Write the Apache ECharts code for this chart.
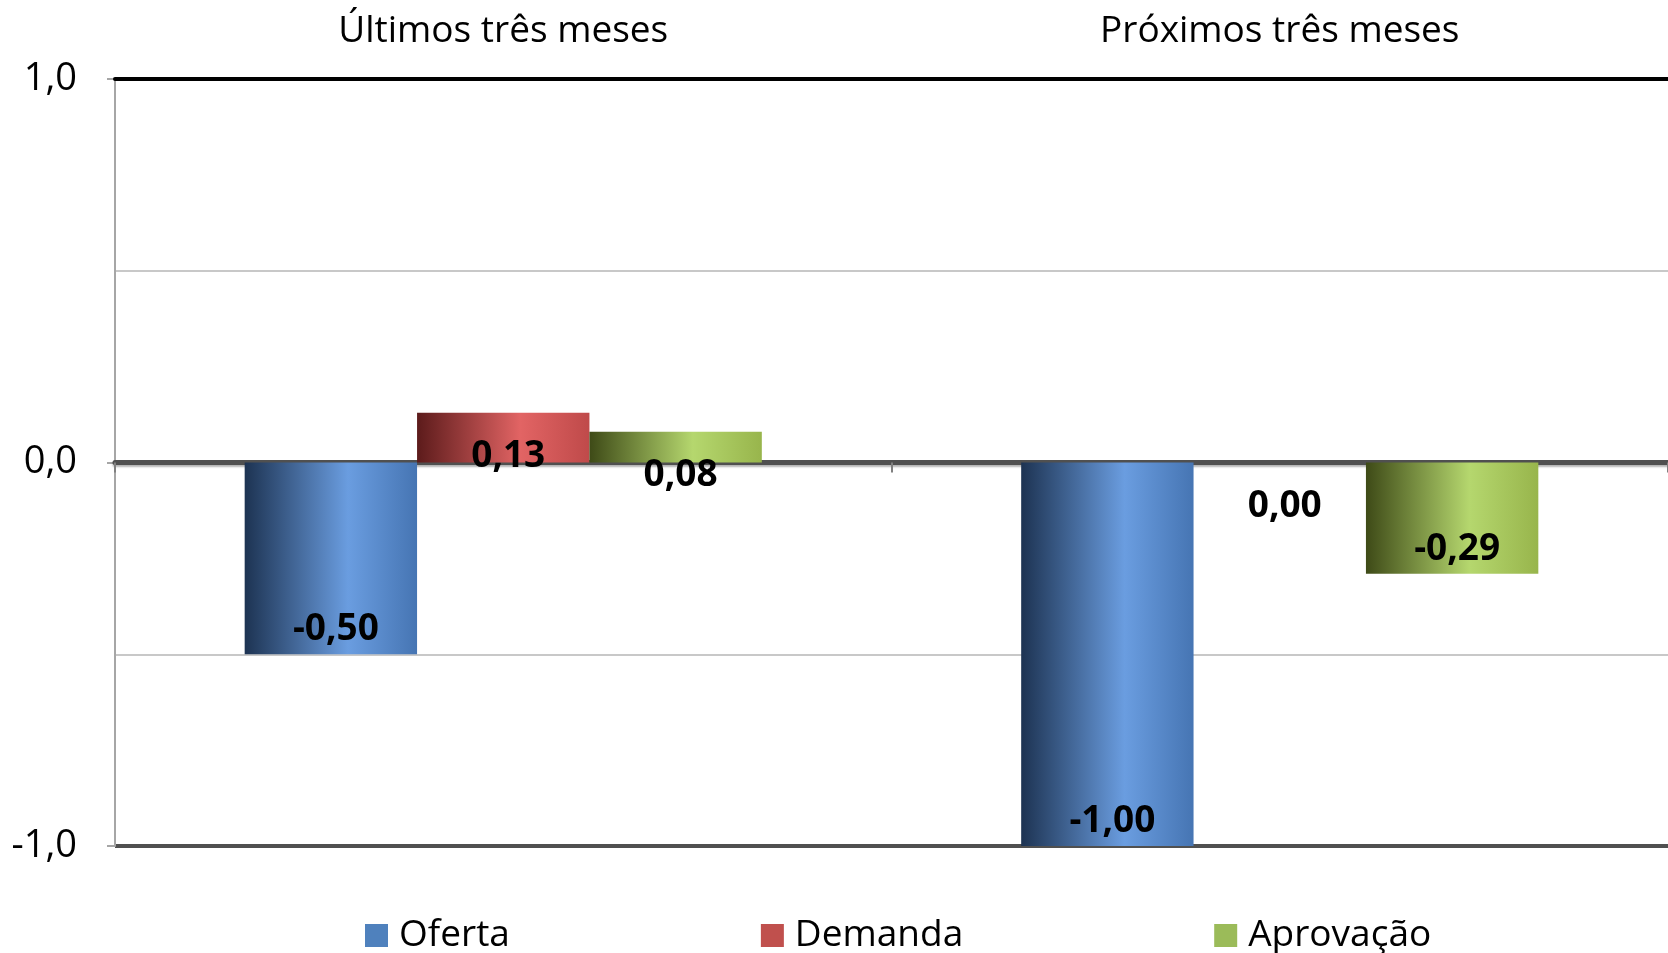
<!DOCTYPE html>
<html>
<head>
<meta charset="utf-8">
<script src="https://cdn.jsdelivr.net/npm/echarts@6/dist/echarts.min.js"></script>
<style>
html, body { margin: 0; padding: 0; background: #fff; }
#chart { width: 1668px; height: 953px; }
</style>
</head>
<body>
<div id="chart"></div>
<script>
// dados
var categories = ['Últimos três meses', 'Próximos três meses']
var seriesNames = ['Oferta', 'Demanda', 'Aprovação']
var oferta = [-0.50, -1.00]
var demanda = [0.13, 0.00]
var aprovacao = [0.08, -0.29]
var yTicks = [-1, 0, 1]

var chart = echarts.init(document.getElementById('chart'))
var font = 'Open Sans'

// cores sólidas (legenda) e gradiente "cilindro" das barras
var solid = ['#4f81bd', '#c0504d', '#9bbb59']
var shades = [
  ['#1d3352', '#6a9de0', '#4675b3'],
  ['#5c1b1b', '#e26464', '#bf4a4a'],
  ['#3e4a17', '#b5d76e', '#98b54c']
]

function grad(s) {
  return new echarts.graphic.LinearGradient(0, 0, 1, 0, [
    { offset: 0, color: s[0] },
    { offset: 0.6, color: s[1] },
    { offset: 1, color: s[2] }
  ])
}

function fmt(v, d) {
  return v.toFixed(d).replace('.', ',')
}

function points(values) {
  return values.map(function (v) {
    var lbl = v < 0
      ? { position: 'insideBottom', distance: 6 }
      : { position: 'insideTop', distance: 25 }
    return { value: v, label: lbl }
  })
}

var values = [oferta, demanda, aprovacao]
var series = values.map(function (vals, i) {
  return {
    name: seriesNames[i],
    type: 'bar',
    xAxisIndex: 1,
    barGap: '0%',
    barCategoryGap: '33.4%',
    itemStyle: { color: grad(shades[i]) },
    label: {
      show: true,
      color: '#000',
      fontFamily: font,
      fontWeight: 'bold',
      fontSize: 37,
      offset: [5, 0],
      formatter: function (p) { return fmt(p.value, 2) }
    },
    data: points(vals)
  }
})

var option = {
  backgroundColor: '#fff',
  animation: false,
  grid: { left: 115, right: 0, top: 79, bottom: 107 },
  legend: {
    left: 360,
    top: 912,
    itemWidth: 23,
    itemHeight: 23,
    itemGap: 251,
    icon: 'rect',
    textStyle: { fontFamily: font, fontSize: 37, color: '#000', padding: [0, 0, 0, 6] },
    data: seriesNames.map(function (n, i) {
      return { name: n, itemStyle: { color: solid[i] } }
    })
  },
  xAxis: [
    {
      type: 'category',
      position: 'top',
      data: categories,
      z: 5,
      axisLine: { onZero: false, lineStyle: { color: '#000', width: 4 } },
      axisTick: { show: false },
      axisLabel: { fontFamily: font, fontSize: 37, color: '#000', margin: 29 }
    },
    {
      type: 'category',
      data: categories,
      z: 1,
      axisLine: {
        onZero: true,
        lineStyle: { color: '#505050', width: 5, shadowColor: 'rgba(0,0,0,0.3)', shadowBlur: 2, shadowOffsetY: 2 }
      },
      axisTick: { show: true, length: 10, lineStyle: { color: '#808080', width: 2 } },
      axisLabel: { show: false }
    }
  ],
  yAxis: {
    type: 'value',
    min: yTicks[0],
    max: yTicks[yTicks.length - 1],
    interval: 1,
    axisLine: { show: true, lineStyle: { color: '#a6a6a6', width: 2 } },
    axisTick: { show: true, length: 8, lineStyle: { color: '#a6a6a6', width: 2 } },
    axisLabel: {
      fontFamily: font,
      fontSize: 38,
      color: '#000',
      margin: 38,
      formatter: function (v) { return fmt(v, 1) }
    },
    splitLine: { show: true, lineStyle: { color: '#505050', width: 4 } },
    minorTick: { show: false, splitNumber: 2 },
    minorSplitLine: { show: true, lineStyle: { color: '#c8c8c8', width: 2 } }
  },
  series: series
}

chart.setOption(option)
</script>
</body>
</html>
